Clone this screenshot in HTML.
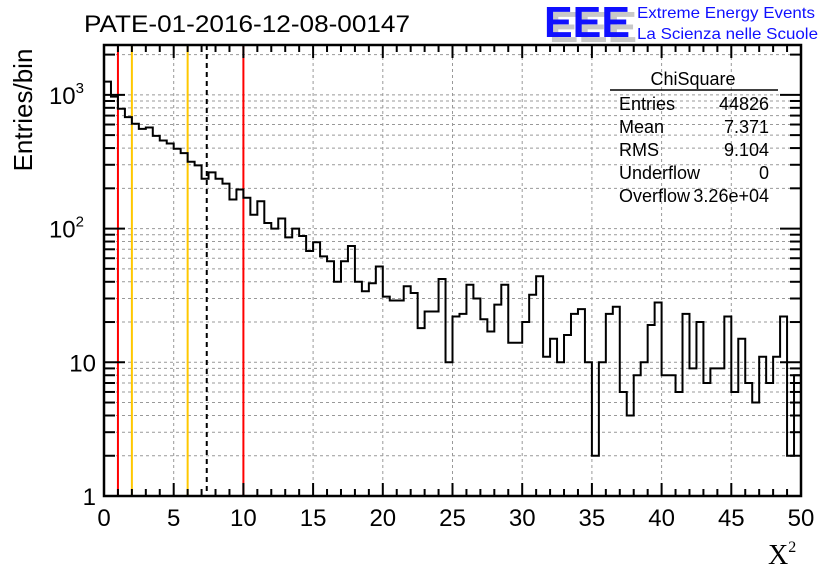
<!DOCTYPE html>
<html><head><meta charset="utf-8"><style>
html,body{margin:0;padding:0;background:#fff;}
svg{display:block;font-family:"Liberation Sans",sans-serif;}
</style></head><body>
<svg id="c" width="836" height="572" viewBox="0 0 836 572" xmlns="http://www.w3.org/2000/svg">
<rect width="836" height="572" fill="#fff"/>
<text x="247" y="32" font-size="24" text-anchor="middle" textLength="326" lengthAdjust="spacingAndGlyphs">PATE-01-2016-12-08-00147</text>
<g>
<text x="549" y="42" font-size="44" font-weight="bold" fill="#c8c8c8" textLength="88" lengthAdjust="spacingAndGlyphs">EEE</text>
<text x="544" y="37" font-size="44" font-weight="bold" fill="#1010ff" textLength="86" lengthAdjust="spacingAndGlyphs">EEE</text>
<text x="637" y="18" font-size="16" fill="#1010ff" textLength="178" lengthAdjust="spacingAndGlyphs">Extreme Energy Events</text>
<text x="637" y="39" font-size="16" fill="#1010ff" textLength="181" lengthAdjust="spacingAndGlyphs">La Scienza nelle Scuole</text>
</g>
<g id="grid"></g><g id="lines"></g><g id="hist"></g><g id="axes"></g>
<g font-size="18">
<text x="693" y="85" text-anchor="middle">ChiSquare</text>
<line x1="610" y1="90" x2="778" y2="90" stroke="#000" stroke-width="1.5"/>
<text x="619" y="110">Entries</text><text x="769" y="110" text-anchor="end">44826</text>
<text x="619" y="133">Mean</text><text x="769" y="133" text-anchor="end">7.371</text>
<text x="619" y="156">RMS</text><text x="769" y="156" text-anchor="end">9.104</text>
<text x="619" y="179">Underflow</text><text x="769" y="179" text-anchor="end">0</text>
<text x="619" y="202">Overflow</text><text x="769" y="202" text-anchor="end">3.26e+04</text>
</g>
<text transform="translate(32,110) rotate(-90)" font-size="26" text-anchor="middle">Entries/bin</text>
<text x="768" y="564" font-size="28" font-family="Liberation Serif,serif">X<tspan font-size="16" dy="-12">2</tspan></text>
</svg>
<script>
const counts=[1257,971,787,682,608,557,570,494,456,433,395,367,316,297,236,263,236,217,165,196,170,127,160,110,100,119,86,100,88,68,79,62,57,40,57,74,40,34,39,52,31,29,29,37,33,18,24,24,42,10,22,23,38,30,21,17,27,38,14,14,20,32,44,11,15,10,16,23,25,10,2,10,23,26,6,4,8,10,19,28,8,8,6,23,9,20,7,9,9,22,6,15,7,5,11,7,11,22,2,8];
const xTicks=[0,5,10,15,20,25,30,35,40,45,50];
const yTicks=[1,10,100,1000];
const yTickLabels=["1","10","10²","10³"];
const redCuts=[1,10];
const orangeCuts=[2,6];
const meanLine=[7.371];
const L=104,R=801,T=45,B=496,NS="http://www.w3.org/2000/svg";
const X0=0,X1=50,binW=0.5,YMAX=Math.log10(2360);
const sx=v=>L+(v-X0)/(X1-X0)*(R-L);
const sy=v=>B-Math.log10(v)/YMAX*(B-T);
function mk(tag,attrs,parent){const e=document.createElementNS(NS,tag);for(const k in attrs)e.setAttribute(k,attrs[k]);parent.appendChild(e);return e;}
const grid=document.getElementById('grid'),lines=document.getElementById('lines'),hist=document.getElementById('hist'),axes=document.getElementById('axes');

for(const t of xTicks){if(t>X0&&t<X1){const g=mk('line',{x1:sx(t),x2:sx(t),y1:T,y2:B,stroke:'#999','stroke-dasharray':'3,3'},grid);

}}
for(let d=0;d<4;d++)for(let m=1;m<10;m++){const v=m*Math.pow(10,d);const y=sy(v);if(y<=T||y>=B)continue;
const g=mk('line',{x1:L,x2:R,y1:y,y2:y,stroke:'#999','stroke-dasharray':'3,3'},grid);

}
function vline(v,col,dash,name){const l=mk('line',{x1:sx(v),x2:sx(v),y1:T,y2:B,stroke:col,'stroke-width':2},lines);if(dash)l.setAttribute('stroke-dasharray',dash);

}
redCuts.forEach(v=>vline(v,'#ff0000',null,'red-cut-line'));
orangeCuts.forEach(v=>vline(v,'#ffc800',null,'orange-cut-line'));
meanLine.forEach(v=>vline(v,'#000','5,4','mean-line'));
let d='M'+sx(X0)+','+B;
counts.forEach((c,i)=>{const y=Math.min(sy(Math.max(c,0.5)),B);d+=' L'+sx(X0+i*binW)+','+y+' L'+sx(X0+(i+1)*binW)+','+y;});
d+=' L'+sx(X1)+','+B;
const h=mk('path',{d:d,fill:'none',stroke:'#000','stroke-width':2},hist);


const fr=mk('rect',{x:L,y:T,width:R-L,height:B-T,fill:'none',stroke:'#000','stroke-width':2.5},axes);


for(let v=X0;v<=X1;v++){const maj=v%5===0;const len=maj?13:7;
mk('line',{x1:sx(v),x2:sx(v),y1:B,y2:B-len,stroke:'#000','stroke-width':2},axes);
mk('line',{x1:sx(v),x2:sx(v),y1:T,y2:T+len,stroke:'#000','stroke-width':2},axes);}
xTicks.forEach(t=>{const tx=mk('text',{x:sx(t),y:B+30,'font-size':24,'text-anchor':'middle'},axes);tx.textContent=t;

});
for(let dd=0;dd<4;dd++)for(let m=1;m<10;m++){const v=m*Math.pow(10,dd);const y=sy(v);if(y<T)continue;const len=m===1?21:11;
mk('line',{x1:L,x2:L+len,y1:y,y2:y,stroke:'#000','stroke-width':2},axes);
mk('line',{x1:R,x2:R-len,y1:y,y2:y,stroke:'#000','stroke-width':2},axes);}
yTicks.forEach((t,i)=>{const tx=mk('text',{x:L-8,y:sy(t)+9,'font-size':24,'text-anchor':'end'},axes);
const lab=yTickLabels[i];
if(lab.length>2){tx.textContent='10';const s=mk('tspan',{dy:-11,'font-size':15},tx);s.textContent=lab==='10²'?'2':'3';tx.setAttribute('x',L-20);}else tx.textContent=lab;

});
</script>
</body></html>
